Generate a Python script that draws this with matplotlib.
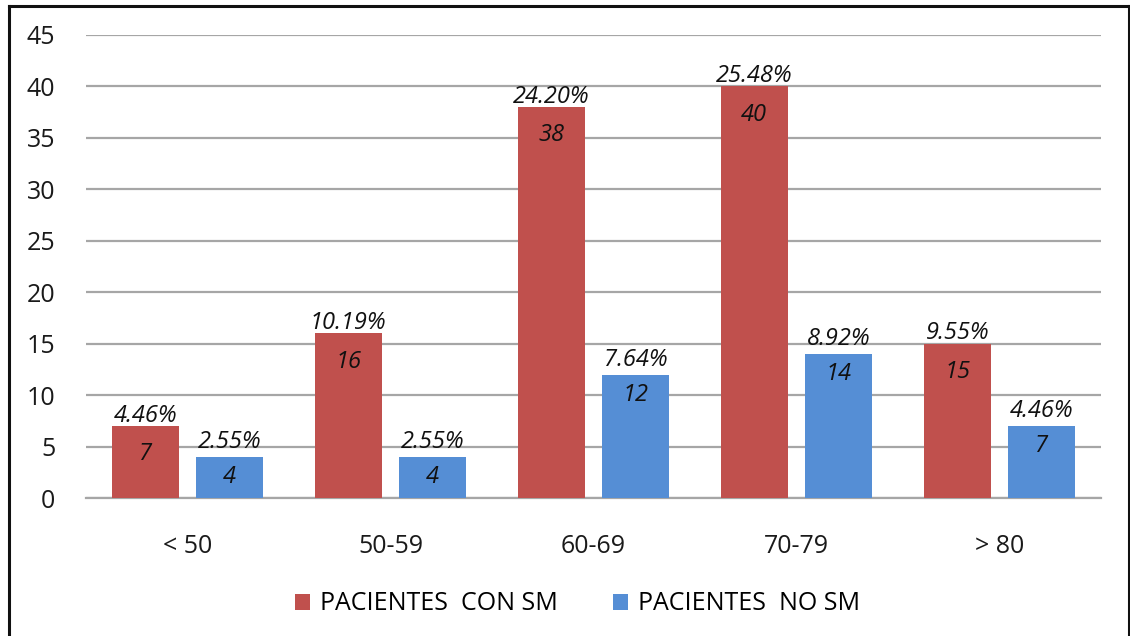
import matplotlib
matplotlib.use("Agg")
import matplotlib.pyplot as plt
from matplotlib.lines import Line2D
from matplotlib.patches import Patch
import numpy as np

categories = ["< 50", "50-59", "60-69", "70-79", "> 80"]
con_sm = [7, 16, 38, 40, 15]
no_sm = [4, 4, 12, 14, 7]
con_sm_pct = ["4.46%", "10.19%", "24.20%", "25.48%", "9.55%"]
no_sm_pct = ["2.55%", "2.55%", "7.64%", "8.92%", "4.46%"]
series_names = ["PACIENTES  CON SM", "PACIENTES  NO SM"]

RED = "#C0504D"
BLUE = "#558ED5"
GRID = "#A6A6A6"

plt.rcParams["font.family"] = ["Open Sans", "DejaVu Sans"]

fig = plt.figure(figsize=(11.30, 6.36), dpi=100)
ax = fig.add_axes([86 / 1130, 1 - 498 / 636, (1101 - 86) / 1130, (498 - 35) / 636])

x = np.arange(len(categories))
width = 0.33
offset = 0.208

bars_red = ax.bar(x - offset, con_sm, width, color=RED, zorder=3)
bars_blue = ax.bar(x + offset, no_sm, width, color=BLUE, zorder=3)

ax.set_xlim(-0.5, len(categories) - 0.5)
ax.set_ylim(0, 45)
ax.set_yticks(range(0, 46, 5))
ax.yaxis.grid(True, color=GRID, linewidth=1.6, zorder=0)
ax.set_axisbelow(True)

for s in ["top", "right", "left"]:
    ax.spines[s].set_visible(False)
ax.spines["bottom"].set_color(GRID)
ax.spines["bottom"].set_linewidth(1.6)

ax.tick_params(axis="both", length=0, labelsize=18, colors="#1a1a1a")
ax.tick_params(axis="y", pad=22)
ax.tick_params(axis="x", pad=26)
ax.set_xticks(x)
ax.set_xticklabels(categories)

# percentage above each bar, count just inside its top
label_offsets = [(7.5, -20.5), (10.5, -14.5)]
for (bars, vals, pcts), (up, down) in zip(
        [(bars_red, con_sm, con_sm_pct), (bars_blue, no_sm, no_sm_pct)], label_offsets):
    for b, v, p in zip(bars, vals, pcts):
        cx = b.get_x() + b.get_width() / 2
        ax.annotate(p, (cx, v), xytext=(0, up), textcoords="offset points",
                    ha="center", va="center", fontsize=17, style="italic",
                    color="#111111", zorder=5)
        ax.annotate(str(v), (cx, v), xytext=(0, down), textcoords="offset points",
                    ha="center", va="center", fontsize=17, style="italic",
                    color="#111111", zorder=5)

handles = [Patch(facecolor=RED), Patch(facecolor=BLUE)]
fig.legend(handles, series_names, loc="center", bbox_to_anchor=(0.511, 1 - 604 / 636),
           ncol=2, frameon=False, fontsize=18, handlelength=0.6, handleheight=0.6,
           handletextpad=0.4, columnspacing=2.2)

# chart frame: left, top and right edges
for (x0, y0, x1, y1) in [(9, 636, 9, 6), (9, 6, 1129, 6), (1129, 6, 1129, 636)]:
    fig.add_artist(Line2D([x0 / 1130, x1 / 1130], [1 - y0 / 636, 1 - y1 / 636],
                          color="#111111", linewidth=2.2, transform=fig.transFigure))

fig.savefig("out.png", dpi=100, facecolor="white")
